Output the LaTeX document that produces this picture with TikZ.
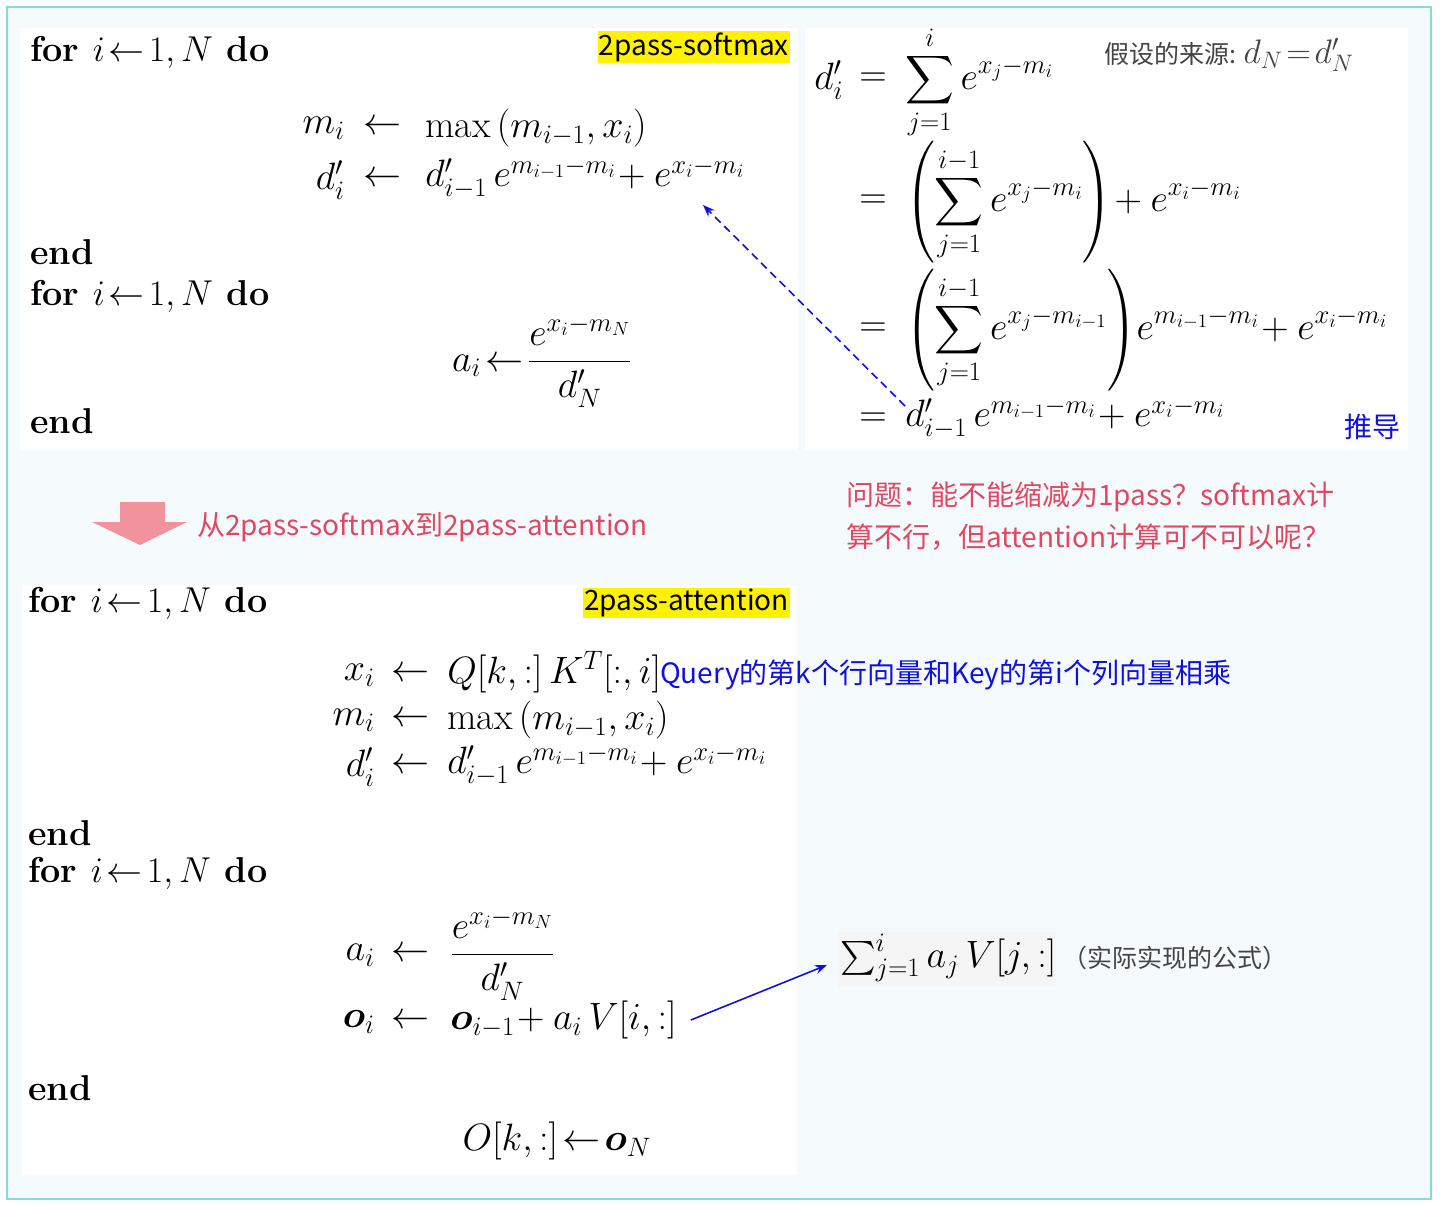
\RequirePackage{fix-cm}
\documentclass[tikz,border=0pt]{standalone}
\usepackage{amsmath}
\usepackage{fontspec}
\usetikzlibrary{arrows.meta}
\newfontfamily\cjk{Noto Sans CJK SC}
\definecolor{bord}{HTML}{84DCD4}
\definecolor{bgc}{HTML}{F5FBFC}
\definecolor{redt}{HTML}{E24660}
\definecolor{pinka}{HTML}{F0939D}
\definecolor{bluet}{HTML}{1010E0}
\definecolor{grayt}{HTML}{444444}
\begin{document}
\begin{tikzpicture}[x=1pt,y=-1pt,
  big/.style={font=\fontsize{28}{34}\selectfont, inner sep=0pt, scale=1.36, transform shape},
  kw/.style={font=\fontsize{29}{34}\selectfont\bfseries, inner sep=0pt, anchor=west, scale=1.24, transform shape},
  cj/.style={font=\fontsize{28}{34}\cjk, inner sep=0pt},
  tag/.style={font=\fontsize{28}{32}\cjk, fill=yellow, inner sep=1pt, anchor=east}]
\useasboundingbox (0,0) rectangle (1440,1206);
\fill[bgc] (7,7) rectangle (1431,1199);
\draw[bord,line width=1.5pt] (7,7) rectangle (1431,1199);
\fill[white] (20,28) rectangle (798,450);
\fill[white] (805,28) rectangle (1408,450);
\fill[white] (22,585) rectangle (797,1175);
\fill[gray!8] (838,932) rectangle (1056,987);
% panel 1
\node[kw] (f1) at (30,52) {for $i\!\leftarrow\!1,N$ do};
\node[tag] (t1) at (790,47) {2pass-softmax};
\node[big,anchor=east] (m1l) at (345,128) {$m_i$};
\node[big] (m1a) at (383,128) {$\leftarrow$};
\node[big,anchor=west] (m1r) at (425,128) {$\max\left(m_{i-1},x_i\right)$};
\node[big,anchor=east] (d1l) at (345,180) {$d'_i$};
\node[big] (d1a) at (383,180) {$\leftarrow$};
\node[big,anchor=west] (d1r) at (425,178) {$d'_{i-1}\,e^{m_{i-1}-m_i}\!+e^{x_i-m_i}$};
\node[kw] (e1) at (30,252) {end};
\node[kw] (f2) at (30,296) {for $i\!\leftarrow\!1,N$ do};
\node[big] (a1) at (542,362) {$a_i\!\leftarrow\!\dfrac{e^{x_i-m_N}}{d'_N}$};
\node[kw] (e2) at (30,421) {end};
% panel 2
\node[big,anchor=west] (r1l) at (814,80) {$d'_i$};
\node[big] (r1e) at (873,80) {$=$};
\node[big,anchor=west] (r1r) at (905,82) {$\displaystyle\sum_{j=1}^{i} e^{x_j-m_i}$};
\node[big] (r2e) at (873,202) {$=$};
\node[big,anchor=west] (r2r) at (905,202) {$\displaystyle\left(\sum_{j=1}^{i-1} e^{x_j-m_i}\right)\!+e^{x_i-m_i}$};
\node[big] (r3e) at (873,330) {$=$};
\node[big,anchor=west] (r3r) at (905,330) {$\displaystyle\left(\sum_{j=1}^{i-1} e^{x_j-m_{i-1}}\right)\!e^{m_{i-1}-m_i}\!+e^{x_i-m_i}$};
\node[big] (r4e) at (873,420) {$=$};
\node[big,anchor=west] (r4r) at (905,418) {$d'_{i-1}\,e^{m_{i-1}-m_i}\!+e^{x_i-m_i}$};
\node[cj,text=grayt,anchor=west,font=\fontsize{25}{30}\cjk] (src) at (1104,55) {假设的来源: \fontsize{34}{40}\selectfont$d_N\!=\!d'_N$};
\node[cj,text=bluet] (td) at (1372,427) {推导};
\draw[bluet,dash pattern=on 8pt off 5pt,line width=1.6pt,-{Stealth[length=12pt]}] (r4r.west) ++(0,-12) coordinate (ds) -- (703,205) coordinate (de);
% middle
\node[cj,text=redt,anchor=west,align=left,font=\fontsize{28}{42}\cjk] (q) at (846,516) {问题：能不能缩减为1pass？softmax计\\算不行，但attention计算可不可以呢？};
\fill[pinka] (120,502) -- (165,502) -- (165,522) -- (187,522) -- (140,545) -- (92,522) -- (120,522) -- cycle;
\node[cj,text=redt,anchor=west] (mt) at (197,527) {从2pass-softmax到2pass-attention};
% panel 3
\node[kw] (f3) at (28,603) {for $i\!\leftarrow\!1,N$ do};
\node[tag] (t3) at (790,603) {2pass-attention};
\node[big,anchor=east] (x3l) at (375,675) {$x_i$};
\node[big] (x3a) at (411,675) {$\leftarrow$};
\node[big,anchor=west] (x3r) at (447,672) {$Q[k,:]\,K^T[:,i]$};
\node[cj,text=bluet,anchor=west] (qk) at (660,675) {Query的第k个行向量和Key的第i个列向量相乘};
\node[big,anchor=east] (m3l) at (375,720) {$m_i$};
\node[big] (m3a) at (411,720) {$\leftarrow$};
\node[big,anchor=west] (m3r) at (447,720) {$\max\left(m_{i-1},x_i\right)$};
\node[big,anchor=east] (d3l) at (375,767) {$d'_i$};
\node[big] (d3a) at (411,767) {$\leftarrow$};
\node[big,anchor=west] (d3r) at (447,765) {$d'_{i-1}\,e^{m_{i-1}-m_i}\!+e^{x_i-m_i}$};
\node[kw] (e3) at (28,833) {end};
\node[kw] (f4) at (28,873) {for $i\!\leftarrow\!1,N$ do};
\node[big,anchor=east] (a3l) at (375,955) {$a_i$};
\node[big] (a3a) at (411,955) {$\leftarrow$};
\node[big,anchor=west] (a3r) at (450,955) {$\dfrac{e^{x_i-m_N}}{d'_N}$};
\node[big,anchor=east] (o3l) at (375,1022) {$\boldsymbol{o}_i$};
\node[big] (o3a) at (411,1022) {$\leftarrow$};
\node[big,anchor=west] (o3r) at (450,1020) {$\boldsymbol{o}_{i-1}\!+a_i\,V[i,:]$};
\node[kw] (e4) at (28,1088) {end};
\node[big] (ok) at (557,1141) {$O[k,:]\!\leftarrow\!\boldsymbol{o}_N$};
\node[big,anchor=west] (sm) at (840,958) {$\sum_{j=1}^{i} a_j\,V[j,:]$};
\node[cj,text=grayt,anchor=west,font=\fontsize{25}{30}\cjk] (imp) at (1062,958) {（实际实现的公式）};
\draw[bluet,line width=1.6pt,-{Stealth[length=12pt]}] (o3r.east) ++(14,0) coordinate (bs) -- (827,965);
\end{tikzpicture}
\end{document}
